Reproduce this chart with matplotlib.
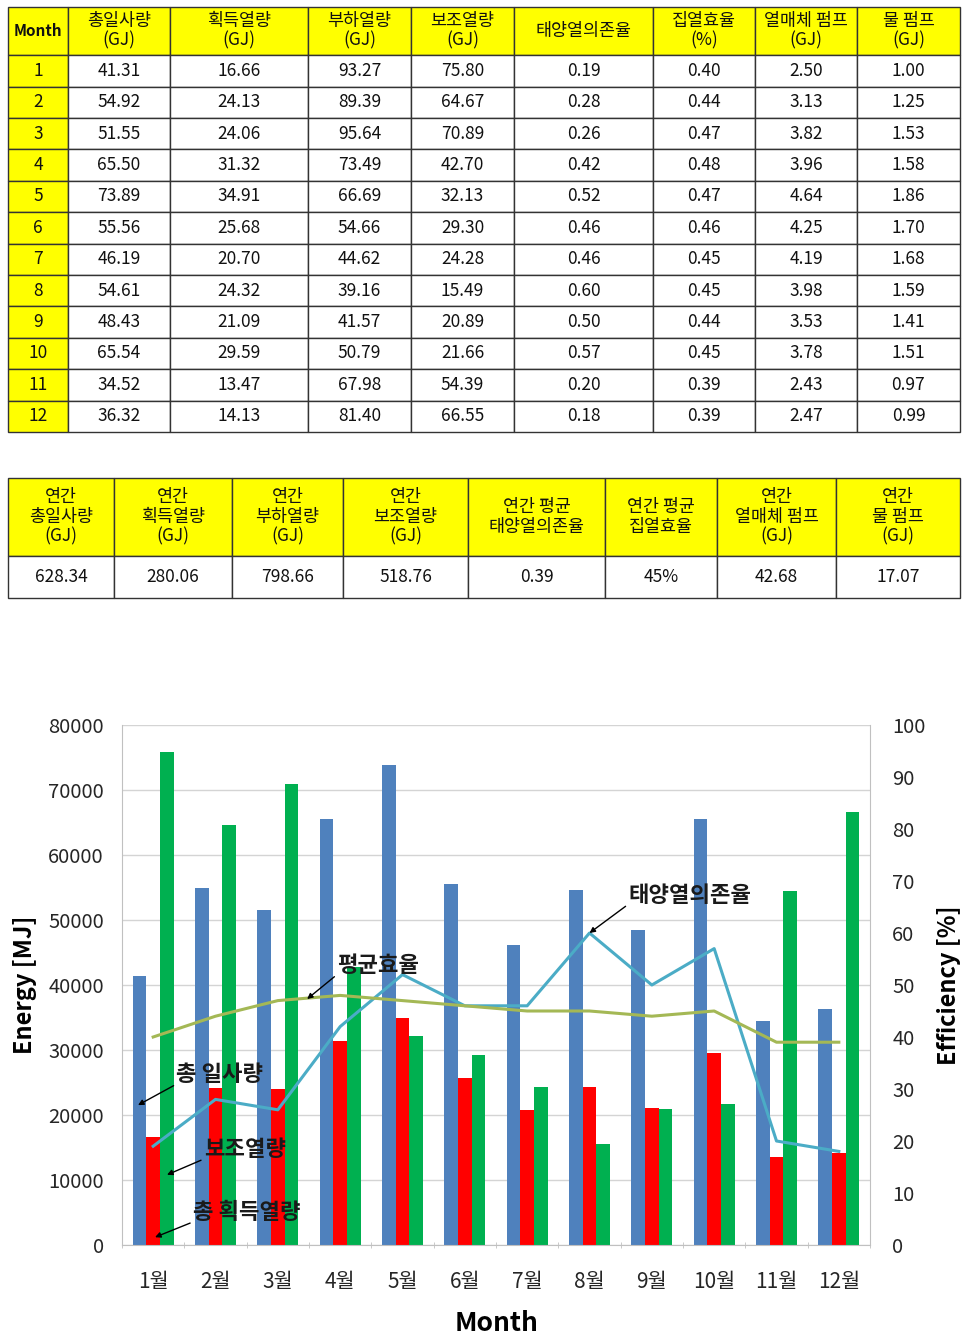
import matplotlib
matplotlib.use("Agg")
import matplotlib.pyplot as plt
import numpy as np

plt.rcParams["font.family"] = ["Noto Sans CJK KR", "DejaVu Sans"]

# monthly data (GJ)
months = [str(m) for m in range(1, 13)]
month_labels = [f"{m}월" for m in range(1, 13)]
solar_gj = [41.31, 54.92, 51.55, 65.50, 73.89, 55.56, 46.19, 54.61, 48.43, 65.54, 34.52, 36.32]
gain_gj = [16.66, 24.13, 24.06, 31.32, 34.91, 25.68, 20.70, 24.32, 21.09, 29.59, 13.47, 14.13]
load_gj = [93.27, 89.39, 95.64, 73.49, 66.69, 54.66, 44.62, 39.16, 41.57, 50.79, 67.98, 81.40]
aux_gj = [75.80, 64.67, 70.89, 42.70, 32.13, 29.30, 24.28, 15.49, 20.89, 21.66, 54.39, 66.55]
solar_frac = [0.19, 0.28, 0.26, 0.42, 0.52, 0.46, 0.46, 0.60, 0.50, 0.57, 0.20, 0.18]
coll_eff = [0.40, 0.44, 0.47, 0.48, 0.47, 0.46, 0.45, 0.45, 0.44, 0.45, 0.39, 0.39]
pump_fluid_gj = [2.50, 3.13, 3.82, 3.96, 4.64, 4.25, 4.19, 3.98, 3.53, 3.78, 2.43, 2.47]
pump_water_gj = [1.00, 1.25, 1.53, 1.58, 1.86, 1.70, 1.68, 1.59, 1.41, 1.51, 0.97, 0.99]

header = ["Month", "총일사량\n(GJ)", "획득열량\n(GJ)", "부하열량\n(GJ)", "보조열량\n(GJ)",
          "태양열의존율", "집열효율\n(%)", "열매체 펌프\n(GJ)", "물 펌프\n(GJ)"]

annual_header = ["연간\n총일사량\n(GJ)", "연간\n획득열량\n(GJ)", "연간\n부하열량\n(GJ)",
                 "연간\n보조열량\n(GJ)", "연간 평균\n태양열의존율", "연간 평균\n집열효율",
                 "연간\n열매체 펌프\n(GJ)", "연간\n물 펌프\n(GJ)"]
annual_values = ["628.34", "280.06", "798.66", "518.76", "0.39", "45%", "42.68", "17.07"]

W, H = 976, 1343
fig = plt.figure(figsize=(W / 100, H / 100), dpi=100)


def px_axes(x0, y0, x1, y1):
    # axes from pixel box (top-left origin)
    return fig.add_axes([x0 / W, 1 - y1 / H, (x1 - x0) / W, (y1 - y0) / H])


def style_table(tab, head_h, body_h, yellow_first_col):
    tab.auto_set_font_size(False)
    for (r, c), cell in tab.get_celld().items():
        cell.set_edgecolor("#333333")
        cell.set_linewidth(1.0)
        txt = cell.get_text()
        txt.set_fontsize(12.5)
        txt.set_linespacing(1.1)
        txt.set_color("#111111")
        if r == 0:
            cell.set_facecolor("#ffff00")
            cell.set_height(cell.get_height() * head_h / body_h)
        elif c == 0 and yellow_first_col:
            cell.set_facecolor("#ffff00")


####################################################
# Monthly table

col_w = [60, 102, 138, 103, 103, 139, 102, 102, 103]
rows = []
for i in range(12):
    rows.append([months[i], f"{solar_gj[i]:.2f}", f"{gain_gj[i]:.2f}", f"{load_gj[i]:.2f}",
                 f"{aux_gj[i]:.2f}", f"{solar_frac[i]:.2f}", f"{coll_eff[i]:.2f}",
                 f"{pump_fluid_gj[i]:.2f}", f"{pump_water_gj[i]:.2f}"])

tax = px_axes(8, 7, 960, 432)
tax.axis("off")
tab = tax.table(cellText=rows, colLabels=header, colWidths=list(np.array(col_w) / sum(col_w)),
                cellLoc="center", bbox=[0, 0, 1, 1])
style_table(tab, 48, 31.3, True)
tab[0, 0].get_text().set_fontweight("bold")
tab[0, 0].get_text().set_fontsize(11)

####################################################
# Annual table

col_w2 = [106, 118, 111, 125, 137, 112, 119, 124]
tax2 = px_axes(8, 478, 960, 598)
tax2.axis("off")
tab2 = tax2.table(cellText=[annual_values], colLabels=annual_header,
                  colWidths=list(np.array(col_w2) / sum(col_w2)),
                  cellLoc="center", bbox=[0, 0, 1, 1])
style_table(tab2, 78, 42, False)

####################################################
# Chart

ax = px_axes(122, 725, 870, 1245)
x = np.arange(12)
w = 0.22
ax.bar(x - w, np.array(solar_gj) * 1000, w, color="#4f81bd")
ax.bar(x, np.array(gain_gj) * 1000, w, color="#ff0000")
ax.bar(x + w, np.array(aux_gj) * 1000, w, color="#00b050")
ax.set_xlim(-0.5, 11.5)
ax.set_ylim(0, 80000)
ax.set_yticks(np.arange(0, 80001, 10000))
ax.set_xticks(x)
ax.set_xticklabels(month_labels)
ax.set_xticks(np.arange(-0.5, 12, 1), minor=True)
ax.grid(axis="y", color="#d4d4d4", lw=1)
ax.set_axisbelow(True)
ax.tick_params(axis="y", length=0, pad=13, labelsize=14.5, labelcolor="#262626")
ax.tick_params(axis="x", which="major", length=0, pad=19, labelsize=15, labelcolor="#262626")
ax.tick_params(axis="x", which="minor", length=4, color="#c0c0c0", direction="inout")

ax2 = ax.twinx()
ax2.plot(x, np.array(solar_frac) * 100, color="#4bacc6", lw=2.2)
ax2.plot(x, np.array(coll_eff) * 100, color="#a4b855", lw=2.2)
ax2.set_ylim(0, 100)
ax2.set_yticks(np.arange(0, 101, 10))
ax2.tick_params(axis="y", length=0, pad=16, labelsize=14.5, labelcolor="#262626")

for a in (ax, ax2):
    a.spines["top"].set_visible(False)
    for s in ("left", "right", "bottom"):
        a.spines[s].set_color("#c0c0c0")
ax.spines["right"].set_visible(False)
ax2.spines["left"].set_visible(False)
ax2.spines["bottom"].set_visible(False)

ax.set_ylabel("Energy [MJ]", fontsize=17, fontweight="bold")
ax.yaxis.set_label_coords(-0.114, 0.5)
ax2.set_ylabel("Efficiency [%]", fontsize=17, fontweight="bold")
ax2.yaxis.set_label_coords(1.0896, 0.5)
ax.set_xlabel("Month", fontsize=19, fontweight="bold")
ax.xaxis.set_label_coords(0.501, -0.125)

# callouts
arrow = dict(arrowstyle="-|>", color="black", lw=1, mutation_scale=8,
             shrinkA=0, shrinkB=0, relpos=(0.0, 0.1))
note = dict(ha="center", va="center", fontsize=16, fontweight="bold", color="#1a1a1a")
ax2.annotate("태양열의존율", xy=(7, 60), xytext=(8.61, 67.3), arrowprops=arrow, **note)
ax2.annotate("평균효율", xy=(2.47, 47.3), xytext=(3.61, 53.8), arrowprops=arrow, **note)
ax2.annotate("총 일사량", xy=(-0.243, 26.9), xytext=(1.07, 32.7), arrowprops=arrow, **note)
ax2.annotate("보조열량", xy=(0.222, 13.5), xytext=(1.47, 18.3), arrowprops=arrow, **note)
ax2.annotate("총 획득열량", xy=(0.03, 1.5), xytext=(1.5, 6.2), arrowprops=arrow, **note)

fig.savefig("out.png", dpi=100)
